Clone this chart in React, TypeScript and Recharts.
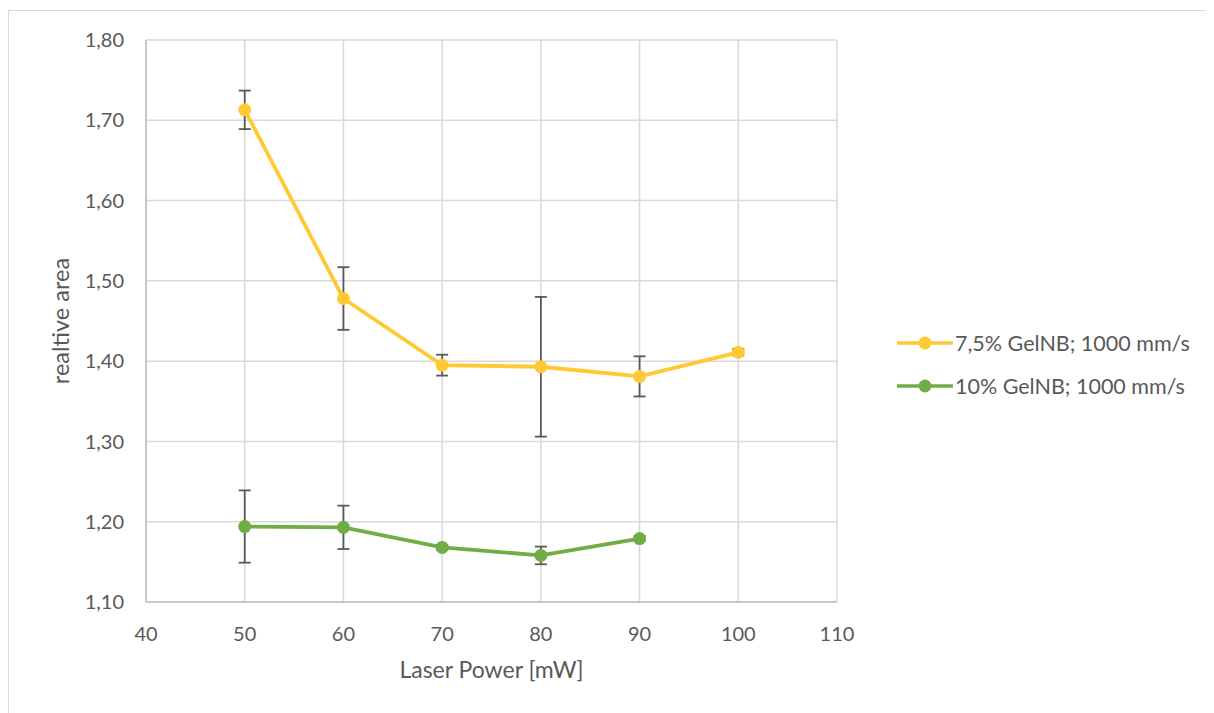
import React from "react";
import {
  CartesianGrid,
  ErrorBar,
  Line,
  LineChart,
  XAxis,
  YAxis,
} from "recharts";

const laserPower = [50, 60, 70, 80, 90, 100];
const gel75 = [1.713, 1.478, 1.395, 1.393, 1.381, 1.411];
const gel75Err = [0.024, 0.039, 0.013, 0.087, 0.025, 0.004];
const gel10 = [1.194, 1.193, 1.168, 1.158, 1.179, null];
const gel10Err = [0.045, 0.027, 0.003, 0.011, 0.003, null];

const xTicks = [40, 50, 60, 70, 80, 90, 100, 110];
const yTicks = [1.1, 1.2, 1.3, 1.4, 1.5, 1.6, 1.7, 1.8];

const seriesNames = ["7,5% GelNB; 1000 mm/s", "10% GelNB; 1000 mm/s"];
const colors = ["#FFC933", "#70AD47"];

const data = laserPower.map((p, i) => ({
  power: p,
  gel75: gel75[i],
  gel75Err: gel75Err[i],
  gel10: gel10[i],
  gel10Err: gel10Err[i],
}));

const font = "Lato, 'Open Sans', sans-serif";
const textColor = "#595959";

// legend drawn beside the plot, like the excel one
function LegendBox() {
  return (
    <div
      style={{
        position: "absolute",
        left: 888,
        top: 310,
        fontFamily: font,
        fontSize: 21.5,
        color: textColor,
      }}
    >
      {seriesNames.map((name, i) => (
        <div
          key={name}
          style={{ display: "flex", alignItems: "center", height: 43, whiteSpace: "nowrap" }}
        >
          <svg width={58} height={16}>
            <line x1={0} y1={8} x2={56} y2={8} stroke={colors[i]} strokeWidth={3.5} />
            <circle cx={28} cy={8} r={6.5} fill={colors[i]} />
          </svg>
          <span>{name}</span>
        </div>
      ))}
    </div>
  );
}

export default function App() {
  return (
    <div
      style={{
        position: "relative",
        width: 1204,
        height: 710,
        marginTop: 2,
        border: "1px solid #d9d9d9",
        background: "#fff",
      }}
    >
      <LineChart
        width={1203}
        height={702}
        data={data}
        margin={{ top: 29, right: 375, bottom: 21, left: 0 }}
      >
        <CartesianGrid stroke="#d9d9d9" strokeWidth={1.5} />
        <XAxis
          dataKey="power"
          type="number"
          domain={[40, 110]}
          ticks={xTicks}
          tickLine={false}
          tickSize={0}
          tickMargin={25}
          height={90}
          axisLine={{ stroke: "#bfbfbf", strokeWidth: 1.5 }}
          tick={{ fill: textColor, fontSize: 20, fontFamily: font }}
          label={{
            value: "Laser Power [mW]",
            position: "insideBottom",
            offset: 14,
            fill: textColor,
            fontSize: 23,
            fontFamily: font,
          }}
        />
        <YAxis
          type="number"
          domain={[1.1, 1.8]}
          ticks={yTicks}
          width={137}
          tickLine={false}
          tickSize={0}
          tickMargin={22}
          axisLine={{ stroke: "#bfbfbf", strokeWidth: 1.5 }}
          tickFormatter={(v: number) => v.toFixed(2).replace(".", ",")}
          tick={{ fill: textColor, fontSize: 20, fontFamily: font }}
          label={{
            value: "realtive area",
            angle: -90,
            position: "insideLeft",
            offset: 52,
            fill: textColor,
            fontSize: 23.5,
            fontFamily: font,
            style: { textAnchor: "middle" },
          }}
        />
        <Line
          dataKey="gel75"
          name={seriesNames[0]}
          stroke={colors[0]}
          strokeWidth={3.8}
          dot={{ r: 6.5, fill: colors[0], stroke: colors[0], strokeWidth: 0 }}
          activeDot={false}
          isAnimationActive={false}
        >
          <ErrorBar dataKey="gel75Err" width={6} stroke="#595959" strokeWidth={1.8} direction="y" />
        </Line>
        <Line
          dataKey="gel10"
          name={seriesNames[1]}
          stroke={colors[1]}
          strokeWidth={3.8}
          dot={{ r: 6.5, fill: colors[1], stroke: colors[1], strokeWidth: 0 }}
          activeDot={false}
          isAnimationActive={false}
        >
          <ErrorBar dataKey="gel10Err" width={6} stroke="#595959" strokeWidth={1.8} direction="y" />
        </Line>
      </LineChart>
      <LegendBox />
    </div>
  );
}
